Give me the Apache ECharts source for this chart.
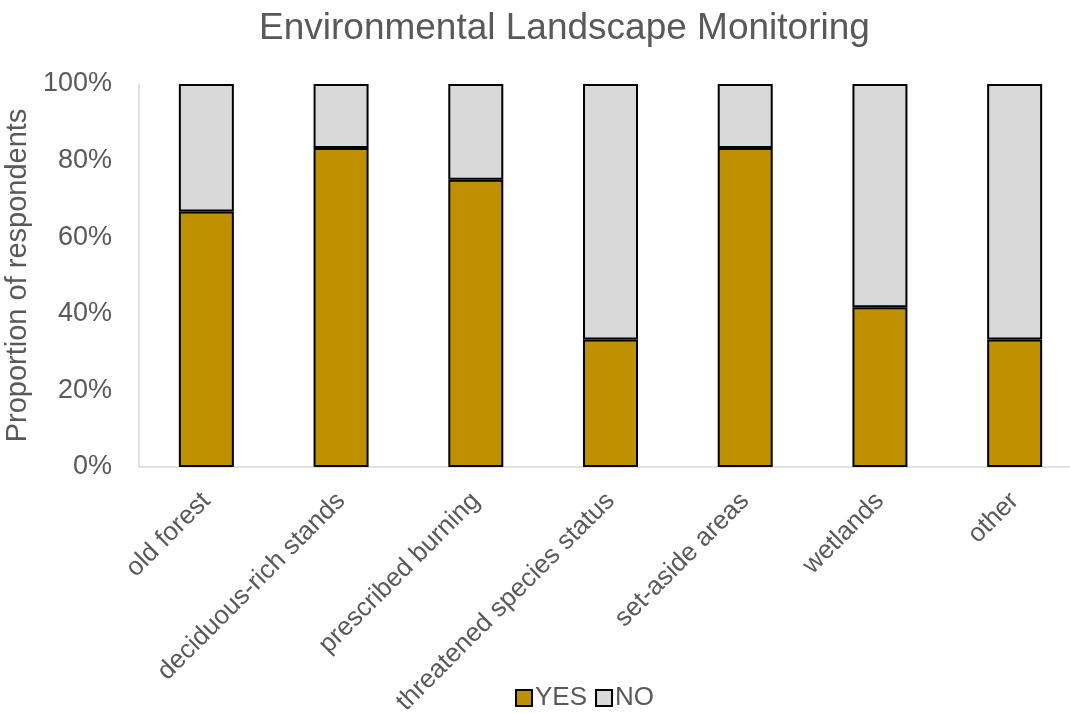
<!DOCTYPE html>
<html>
<head>
<meta charset="utf-8">
<script src="https://cdn.jsdelivr.net/npm/echarts@6/dist/echarts.min.js"></script>
<style>
  html, body { margin: 0; padding: 0; background: #fff; }
  #chart { width: 1070px; height: 713px; }
</style>
</head>
<body>
<div id="chart"></div>
<script>
// Landscape monitoring topics and share of respondents (%)
const categories = ['old forest', 'deciduous-rich stands', 'prescribed burning', 'threatened species status', 'set-aside areas', 'wetlands', 'other'];
const yesValues = [66.7, 83.3, 75, 33.3, 83.3, 41.7, 33.3];
const noValues = [33.3, 16.7, 25, 66.7, 16.7, 58.3, 66.7];
const yTicks = [0, 20, 40, 60, 80, 100];

const textColor = '#595959';
const fontFamily = '"Liberation Sans", Arial, sans-serif';

const chart = echarts.init(document.getElementById('chart'));
chart.setOption({
  animation: false,
  textStyle: { fontFamily: fontFamily },
  title: {
    text: 'Environmental Landscape Monitoring',
    left: 254,
    top: 5,
    textStyle: { fontSize: 37, fontWeight: 'normal', color: textColor, fontFamily: fontFamily }
  },
  legend: {
    data: ['YES', 'NO'],
    left: 510,
    top: 680,
    itemWidth: 16,
    itemHeight: 16,
    itemGap: 8,
    icon: 'rect',
    textStyle: { fontSize: 26, color: textColor, fontFamily: fontFamily, padding: [0, 0, 0, -2] }
  },
  grid: { left: 139, width: 943, top: 84, height: 383, containLabel: false, outerBoundsMode: 'none' },
  xAxis: {
    type: 'category',
    data: categories,
    axisLine: { lineStyle: { color: '#D9D9D9', width: 1.5 } },
    axisTick: { show: false },
    axisLabel: { rotate: 45, fontSize: 26, color: textColor, margin: 30, interval: 0, fontFamily: fontFamily }
  },
  yAxis: {
    type: 'value',
    min: yTicks[0],
    max: yTicks[yTicks.length - 1],
    interval: 20,
    name: 'Proportion of respondents',
    nameLocation: 'middle',
    nameGap: 99,
    nameTextStyle: { fontSize: 29, color: textColor, fontFamily: fontFamily },
    axisLine: { show: true, lineStyle: { color: '#D9D9D9', width: 1.5 } },
    axisTick: { show: false },
    splitLine: { show: false },
    axisLabel: { formatter: '{value}%', fontSize: 27, color: textColor, margin: 27, fontFamily: fontFamily }
  },
  series: [
    {
      name: 'YES',
      type: 'bar',
      stack: 'total',
      barWidth: 55,
      data: yesValues,
      itemStyle: { color: '#BF9000', borderColor: '#000', borderWidth: 2 }
    },
    {
      name: 'NO',
      type: 'bar',
      stack: 'total',
      barWidth: 55,
      data: noValues,
      itemStyle: { color: '#D9D9D9', borderColor: '#000', borderWidth: 2 }
    }
  ]
});
</script>
</body>
</html>
